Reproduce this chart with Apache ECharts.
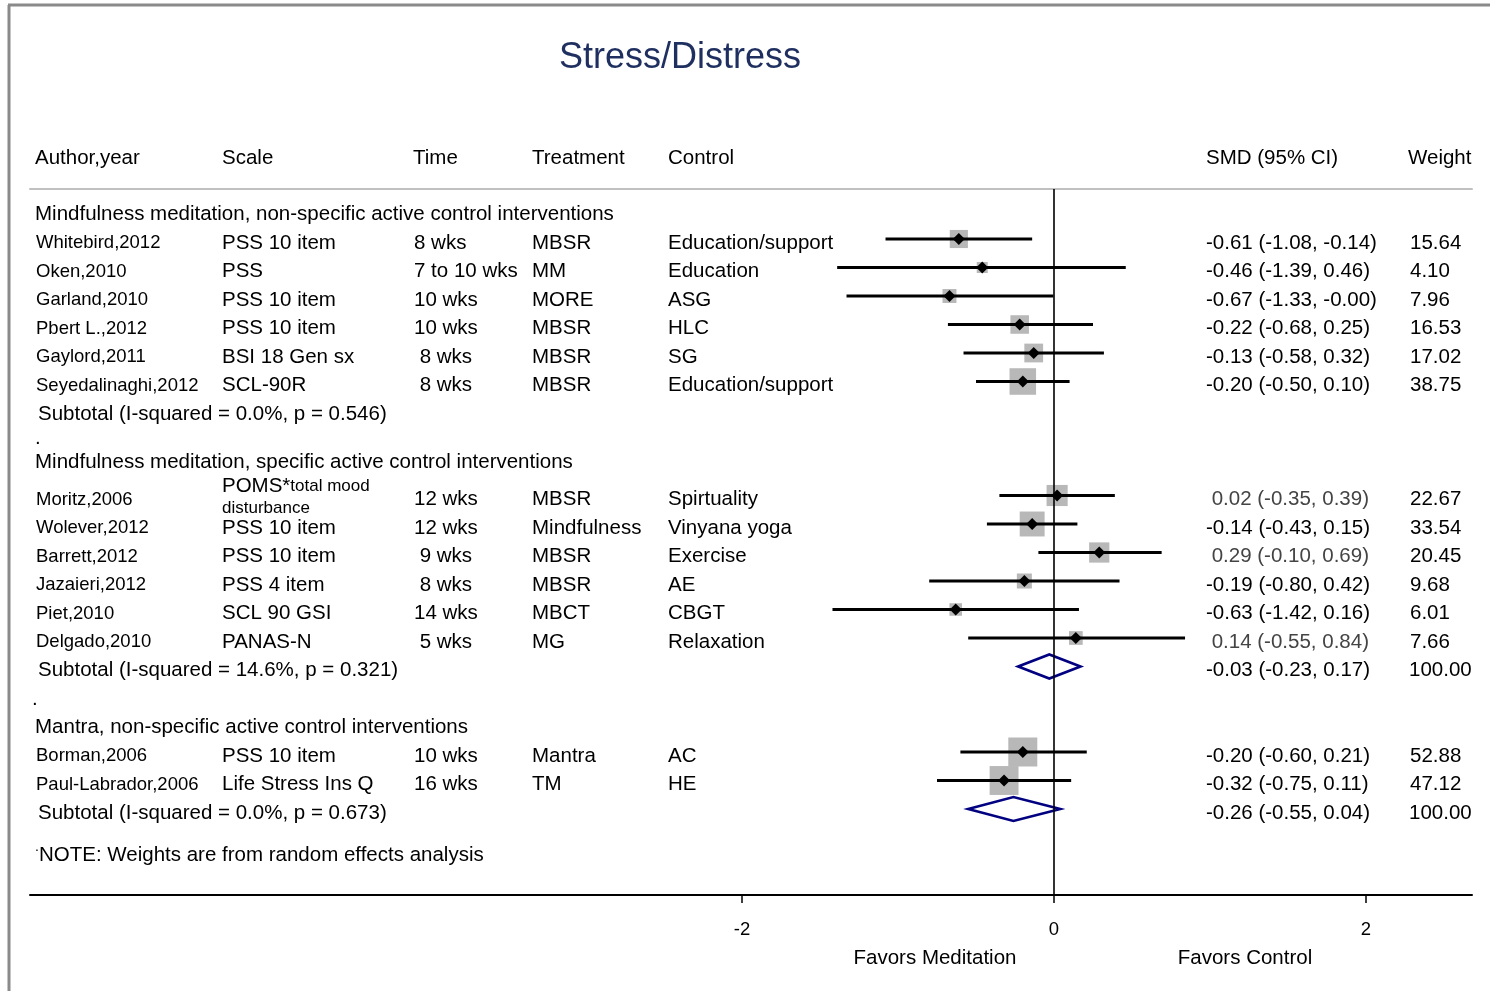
<!DOCTYPE html>
<html><head><meta charset="utf-8">
<script src="https://cdn.jsdelivr.net/npm/echarts@6/dist/echarts.min.js"></script>
<style>html,body{margin:0;padding:0;background:#fff}#c{width:1490px;height:991px}</style>
</head><body><div id="c"></div>
<script>
// ---------------- DATA ----------------
const chartTitle = "Stress/Distress";
const columnHeaders = ["Author,year", "Scale", "Time", "Treatment", "Control", "SMD (95% CI)", "Weight"];
const groupNames = [
  "Mindfulness meditation, non-specific active control interventions",
  "Mindfulness meditation, specific active control interventions",
  "Mantra, non-specific active control interventions"
];
const authors = ["Whitebird,2012", "Oken,2010", "Garland,2010", "Pbert L.,2012", "Gaylord,2011", "Seyedalinaghi,2012",
  "Moritz,2006", "Wolever,2012", "Barrett,2012", "Jazaieri,2012", "Piet,2010", "Delgado,2010",
  "Borman,2006", "Paul-Labrador,2006"];
const scales = ["PSS 10 item", "PSS", "PSS 10 item", "PSS 10 item", "BSI 18 Gen sx", "SCL-90R",
  "POMS*total mood disturbance", "PSS 10 item", "PSS 10 item", "PSS 4 item", "SCL 90 GSI", "PANAS-N",
  "PSS 10 item", "Life Stress Ins Q"];
const times = ["8 wks", "7 to 10 wks", "10 wks", "10 wks", " 8 wks", " 8 wks",
  "12 wks", "12 wks", " 9 wks", " 8 wks", "14 wks", " 5 wks",
  "10 wks", "16 wks"];
const treatments = ["MBSR", "MM", "MORE", "MBSR", "MBSR", "MBSR",
  "MBSR", "Mindfulness", "MBSR", "MBSR", "MBCT", "MG",
  "Mantra", "TM"];
const controls = ["Education/support", "Education", "ASG", "HLC", "SG", "Education/support",
  "Spirtuality", "Vinyana yoga", "Exercise", "AE", "CBGT", "Relaxation",
  "AC", "HE"];
const smd   = [-0.61, -0.46, -0.67, -0.22, -0.13, -0.20,  0.02, -0.14,  0.29, -0.19, -0.63,  0.14, -0.20, -0.32];
const lower = [-1.08, -1.39, -1.33, -0.68, -0.58, -0.50, -0.35, -0.43, -0.10, -0.80, -1.42, -0.55, -0.60, -0.75];
const upper = [-0.14,  0.46, -0.004, 0.25,  0.32,  0.10,  0.39,  0.15,  0.69,  0.42,  0.16,  0.84,  0.21,  0.11];
const weights = [15.64, 4.10, 7.96, 16.53, 17.02, 38.75, 22.67, 33.54, 20.45, 9.68, 6.01, 7.66, 52.88, 47.12];
const studyGroup = [0, 0, 0, 0, 0, 0, 1, 1, 1, 1, 1, 1, 2, 2];
const subtotalLabels = [
  "Subtotal (I-squared = 0.0%, p = 0.546)",
  "Subtotal (I-squared = 14.6%, p = 0.321)",
  "Subtotal (I-squared = 0.0%, p = 0.673)"
];
const subtotalSMD = [null, -0.03, -0.26];
const subtotalLower = [null, -0.23, -0.55];
const subtotalUpper = [null, 0.17, 0.04];
const subtotalWeight = [null, 100.00, 100.00];
const noteText = "NOTE: Weights are from random effects analysis";
const xTickValues = [-2, 0, 2];
const favorLabels = ["Favors Meditation", "Favors Control"];

// ---------------- LAYOUT ----------------
const FONT = '"Liberation Sans", Arial, Helvetica, sans-serif';
const PLOT_LEFT = 30, PLOT_RIGHT = 1472, ZERO_X = 1054, PX_PER_UNIT = 156;
const X_MIN = (PLOT_LEFT - ZERO_X) / PX_PER_UNIT, X_MAX = (PLOT_RIGHT - ZERO_X) / PX_PER_UNIT;
const GRID_TOP = 189, AXIS_Y = 895, ROW0_Y = 239, ROW_H = 28.5;
const Y_MIN = (GRID_TOP - ROW0_Y) / ROW_H, Y_MAX = (AXIS_Y - ROW0_Y) / ROW_H;
const COL = { group: 35, author: 36, scale: 222, time: 414, treat: 532, control: 668, smd: 1206, weight: 1410, subtotal: 38, note: 39 };
const headerX = [35, 222, 413, 532, 668, 1206, 1408];
const groupStartRows = [0, 9, 18];
const groupHeaderRows = [-1, 7.7, 17];
const separatorDots = [[6.85, 35], [16.0, 32]];
const noteRow = 21.5;
const TEXT_DY = 4;

function boxSize(w) { return Math.min(29, 3.7 * Math.sqrt(w) + 3.5); }
function fmtCI(v, lo, hi) { return (v >= 0 ? ' ' : '') + v.toFixed(2) + ' (' + lo.toFixed(2) + ', ' + hi.toFixed(2) + ')'; }

const textItems = [];
function addText(row, x, text, opts) { textItems.push(Object.assign({ row: row, x: x, text: text }, opts || {})); }

groupNames.forEach((g, gi) => addText(groupHeaderRows[gi], COL.group, g));
const counters = [0, 0, 0];
const studyRows = [];
for (let i = 0; i < authors.length; i++) {
  const g = studyGroup[i];
  const row = groupStartRows[g] + counters[g]++;
  studyRows.push(row);
  addText(row, COL.author, authors[i], { size: 18.5 });
  if (scales[i].indexOf('*') >= 0) {
    const parts = scales[i].split('*');
    const rest = parts[1];
    const k = rest.lastIndexOf(' ');
    addText(row, COL.scale, '{a|' + parts[0] + '*}{b|' + rest.slice(0, k) + '}\n{b|' + rest.slice(k + 1) + '}', {
      rich: {
        a: { fontSize: 20.5, fontFamily: FONT, fill: '#000', lineHeight: 22 },
        b: { fontSize: 17, fontFamily: FONT, fill: '#000', lineHeight: 22 }
      },
      dy: -2
    });
  } else {
    addText(row, COL.scale, scales[i]);
  }
  addText(row, COL.time, times[i]);
  addText(row, COL.treat, treatments[i]);
  addText(row, COL.control, controls[i]);
  addText(row, COL.smd, fmtCI(smd[i], lower[i], upper[i]), { fill: smd[i] >= 0 && g === 1 ? '#444' : '#000' });
  addText(row, COL.weight, weights[i].toFixed(2));
}
const subtotalRows = [];
for (let g = 0; g < groupNames.length; g++) {
  const row = groupStartRows[g] + counters[g];
  subtotalRows.push(row);
  addText(row, COL.subtotal, subtotalLabels[g]);
  if (subtotalSMD[g] !== null) {
    addText(row, COL.smd, fmtCI(subtotalSMD[g], subtotalLower[g], subtotalUpper[g]));
    addText(row, COL.weight - 1, subtotalWeight[g].toFixed(2));
  }
}
separatorDots.forEach(d => addText(d[0], d[1], '.'));
addText(noteRow, COL.note, noteText);
addText(noteRow - 0.3, COL.note - 4, '.', { size: 14 });

const chart = echarts.init(document.getElementById('c'), null, { renderer: 'canvas' });

const studyData = smd.map((v, i) => [v, lower[i], upper[i], studyRows[i], weights[i]]);
const subtotalData = [];
subtotalSMD.forEach((v, g) => { if (v !== null) subtotalData.push([v, subtotalLower[g], subtotalUpper[g], subtotalRows[g]]); });

const option = {
  animation: false,
  backgroundColor: '#fff',
  grid: { left: PLOT_LEFT, right: 1490 - PLOT_RIGHT, top: GRID_TOP, bottom: 991 - AXIS_Y, containLabel: false, outerBoundsMode: 'none' },
  xAxis: [{
    type: 'value', min: X_MIN, max: X_MAX, position: 'bottom',
    axisLine: { onZero: false, lineStyle: { color: '#000', width: 2 } },
    axisTick: { customValues: xTickValues, length: 8, lineStyle: { color: '#000', width: 1.5 } },
    axisLabel: { customValues: xTickValues, margin: 25, fontSize: 18.5, fontFamily: FONT, color: '#000' },
    splitLine: { show: false }
  }, {
    type: 'value', min: X_MIN, max: X_MAX, position: 'top',
    axisLine: { onZero: false, lineStyle: { color: '#c0c0c0', width: 2 } },
    axisTick: { show: false }, axisLabel: { show: false }, splitLine: { show: false }
  }],
  yAxis: { type: 'value', inverse: true, min: Y_MIN, max: Y_MAX, show: false, axisLine: { onZero: false } },
  graphic: [
    { type: 'line', shape: { x1: 8, y1: 5, x2: 1490, y2: 5 }, style: { stroke: '#8a8a8a', lineWidth: 3 } },
    { type: 'line', shape: { x1: 9, y1: 5, x2: 9, y2: 991 }, style: { stroke: '#8a8a8a', lineWidth: 3 } },
    { type: 'text', style: { x: 680, y: 58, text: chartTitle, font: '36px ' + FONT, fill: '#1f2f5f', align: 'center', verticalAlign: 'middle' } },
    ...columnHeaders.map((h, i) => ({ type: 'text', style: { x: headerX[i], y: 158, text: h, font: '20.5px ' + FONT, fill: '#000', verticalAlign: 'middle' } })),
    { type: 'text', style: { x: 935, y: 958, text: favorLabels[0], font: '20.5px ' + FONT, fill: '#000', align: 'center', verticalAlign: 'middle' } },
    { type: 'text', style: { x: 1245, y: 958, text: favorLabels[1], font: '20.5px ' + FONT, fill: '#000', align: 'center', verticalAlign: 'middle' } }
  ],
  series: [
    {
      type: 'custom', name: 'boxes', xAxisIndex: 0, yAxisIndex: 0,
      data: studyData, encode: { x: [0, 1, 2], y: 3 }, silent: true,
      renderItem: function (params, api) {
        const p = api.coord([api.value(0), api.value(3)]);
        const s = boxSize(api.value(4));
        return { type: 'rect', shape: { x: p[0] - s / 2, y: p[1] - s / 2, width: s, height: s }, style: { fill: '#b8b8b8' } };
      }
    },
    {
      type: 'line', name: 'zero', xAxisIndex: 0, yAxisIndex: 0,
      data: [[0, Y_MIN], [0, Y_MAX]], symbol: 'none', silent: true,
      lineStyle: { color: '#000', width: 1.6 }
    },
    {
      type: 'custom', name: 'ci', xAxisIndex: 0, yAxisIndex: 0,
      data: studyData, encode: { x: [0, 1, 2], y: 3 }, silent: true,
      renderItem: function (params, api) {
        const y = api.coord([0, api.value(3)])[1];
        const xe = api.coord([api.value(0), 0])[0];
        const xl = api.coord([api.value(1), 0])[0];
        const xh = api.coord([api.value(2), 0])[0];
        const d = 6;
        return {
          type: 'group', children: [
            { type: 'line', shape: { x1: xl, y1: y, x2: xh, y2: y }, style: { stroke: '#000', lineWidth: 2.8 } },
            { type: 'polygon', shape: { points: [[xe - d, y], [xe, y - d], [xe + d, y], [xe, y + d]] }, style: { fill: '#000' } }
          ]
        };
      }
    },
    {
      type: 'custom', name: 'subtotal', xAxisIndex: 0, yAxisIndex: 0,
      data: subtotalData, encode: { x: [0, 1, 2], y: 3 }, silent: true,
      renderItem: function (params, api) {
        const y = api.coord([0, api.value(3)])[1];
        const xe = api.coord([api.value(0), 0])[0];
        const xl = api.coord([api.value(1), 0])[0];
        const xh = api.coord([api.value(2), 0])[0];
        const h = 12;
        return { type: 'polygon', shape: { points: [[xl, y], [xe, y - h], [xh, y], [xe, y + h]] }, style: { fill: 'none', stroke: '#000080', lineWidth: 2.6 } };
      }
    },
    {
      type: 'custom', name: 'text', xAxisIndex: 0, yAxisIndex: 0,
      data: textItems.map(t => [0, t.row]), encode: { x: 0, y: 1 }, silent: true, clip: false,
      renderItem: function (params, api) {
        const it = textItems[params.dataIndex];
        const y = api.coord([0, api.value(1)])[1] + TEXT_DY + (it.dy || 0);
        const style = { x: it.x, y: y, text: it.text, fill: it.fill || '#000', font: (it.size || 20.5) + 'px ' + FONT, verticalAlign: 'middle', align: 'left' };
        if (it.rich) style.rich = it.rich;
        return { type: 'text', style: style };
      }
    }
  ]
};
chart.setOption(option);
</script>
</body></html>
